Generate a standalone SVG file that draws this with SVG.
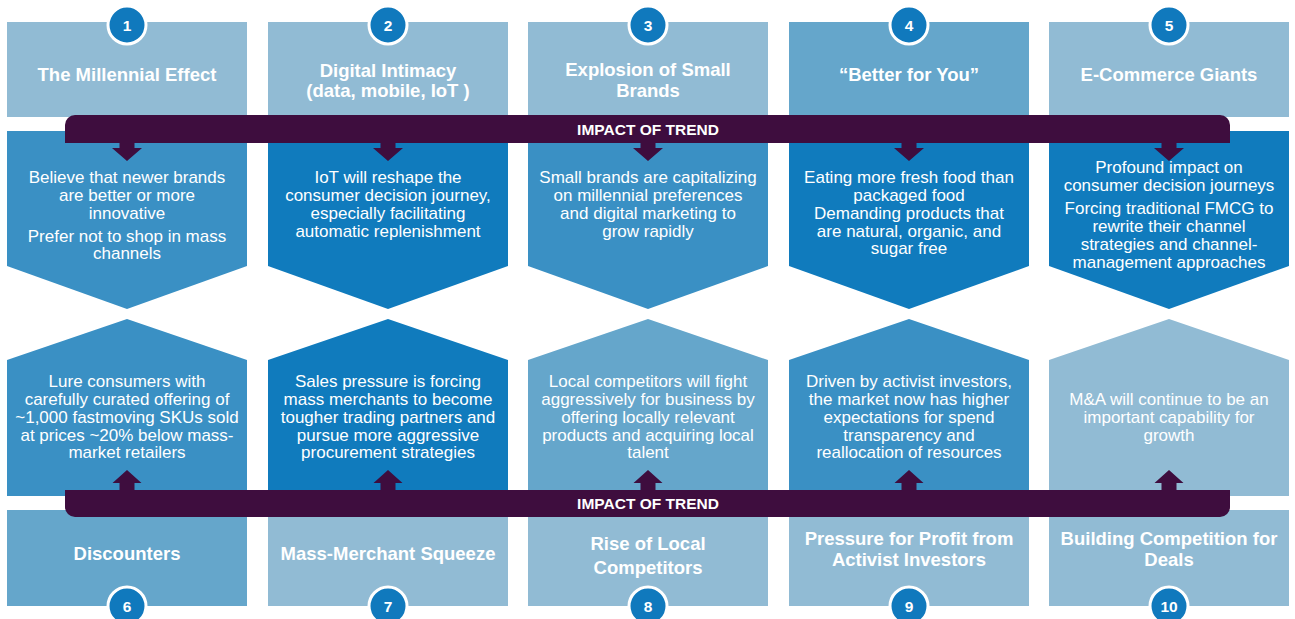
<svg xmlns="http://www.w3.org/2000/svg" width="1295" height="619" viewBox="0 0 1295 619">
<style>
.light{fill:#91BBD4}.medium{fill:#65A6CB}.middark{fill:#3A90C4}.dark{fill:#107BBD}
.bar{fill:#3E0D3E}
.num{fill:#1079BD;stroke:#fff;stroke-width:3}
.numt{font-family:"Liberation Sans",Arial,sans-serif;font-weight:bold;font-size:15.5px;fill:#fff;text-anchor:middle}
.title{font-family:"Liberation Sans",Arial,sans-serif;font-weight:bold;font-size:18.5px;fill:#fff;text-anchor:middle}
.body{font-family:"Liberation Sans",Arial,sans-serif;font-size:17px;fill:#fff;text-anchor:middle}
.bart{font-family:"Liberation Sans",Arial,sans-serif;font-weight:bold;font-size:15.5px;fill:#fff;text-anchor:middle}
.arr{fill:#3E0D3E}
</style>
<rect width="1295" height="619" fill="#fff"/>

<!-- Top title boxes -->
<g id="trend1"><rect class="light" x="7" y="22" width="240" height="95"/><text class="title" x="127" y="81">The Millennial Effect</text></g>
<g id="trend2"><rect class="light" x="268" y="22" width="240" height="95"/><text class="title" x="388" y="77">Digital Intimacy</text><text class="title" x="388" y="97">(data, mobile, IoT )</text></g>
<g id="trend3"><rect class="light" x="528" y="22" width="240" height="95"/><text class="title" x="648" y="76">Explosion of Small</text><text class="title" x="648" y="97">Brands</text></g>
<g id="trend4"><rect class="medium" x="789" y="22" width="240" height="95"/><text class="title" x="909" y="81">“Better for You”</text></g>
<g id="trend5"><rect class="light" x="1049" y="22" width="240" height="95"/><text class="title" x="1169" y="81">E-Commerce Giants</text></g>

<!-- Top impact chevrons -->
<g id="impact1"><path class="middark" d="M7,131H247V266L127,309L7,266Z"/>
<text class="body" x="127" y="183">Believe that newer brands</text><text class="body" x="127" y="201">are better or more</text><text class="body" x="127" y="219">innovative</text><text class="body" x="127" y="242">Prefer not to shop in mass</text><text class="body" x="127" y="259">channels</text></g>
<g id="impact2"><path class="dark" d="M268,131H508V266L388,309L268,266Z"/>
<text class="body" x="388" y="183">IoT will reshape the</text><text class="body" x="388" y="201">consumer decision journey,</text><text class="body" x="388" y="219">especially facilitating</text><text class="body" x="388" y="237">automatic replenishment</text></g>
<g id="impact3"><path class="middark" d="M528,131H768V266L648,309L528,266Z"/>
<text class="body" x="648" y="183">Small brands are capitalizing</text><text class="body" x="648" y="201">on millennial preferences</text><text class="body" x="648" y="219">and digital marketing to</text><text class="body" x="648" y="237">grow rapidly</text></g>
<g id="impact4"><path class="dark" d="M789,131H1029V266L909,309L789,266Z"/>
<text class="body" x="909" y="183">Eating more fresh food than</text><text class="body" x="909" y="201">packaged food</text><text class="body" x="909" y="219">Demanding products that</text><text class="body" x="909" y="237">are natural, organic, and</text><text class="body" x="909" y="254">sugar free</text></g>
<g id="impact5"><path class="dark" d="M1049,131H1289V266L1169,309L1049,266Z"/>
<text class="body" x="1169" y="173">Profound impact on</text><text class="body" x="1169" y="191">consumer decision journeys</text><text class="body" x="1169" y="214">Forcing traditional FMCG to</text><text class="body" x="1169" y="232">rewrite their channel</text><text class="body" x="1169" y="250">strategies and channel-</text><text class="body" x="1169" y="268">management approaches</text></g>

<!-- Bottom impact chevrons -->
<g id="impact6"><path class="middark" d="M127,319L247,360V496H7V360Z"/>
<text class="body" x="127" y="387">Lure consumers with</text><text class="body" x="127" y="405">carefully curated offering of</text><text class="body" x="127" y="423">~1,000 fastmoving SKUs sold</text><text class="body" x="127" y="441">at prices ~20% below mass-</text><text class="body" x="127" y="458">market retailers</text></g>
<g id="impact7"><path class="dark" d="M388,319L508,360V496H268V360Z"/>
<text class="body" x="388" y="387">Sales pressure is forcing</text><text class="body" x="388" y="405">mass merchants to become</text><text class="body" x="388" y="423">tougher trading partners and</text><text class="body" x="388" y="441">pursue more aggressive</text><text class="body" x="388" y="458">procurement strategies</text></g>
<g id="impact8"><path class="medium" d="M648,319L768,360V496H528V360Z"/>
<text class="body" x="648" y="387">Local competitors will fight</text><text class="body" x="648" y="405">aggressively for business by</text><text class="body" x="648" y="423">offering locally relevant</text><text class="body" x="648" y="441">products and acquiring local</text><text class="body" x="648" y="458">talent</text></g>
<g id="impact9"><path class="middark" d="M909,319L1029,360V496H789V360Z"/>
<text class="body" x="909" y="387">Driven by activist investors,</text><text class="body" x="909" y="405">the market now has higher</text><text class="body" x="909" y="423">expectations for spend</text><text class="body" x="909" y="441">transparency and</text><text class="body" x="909" y="458">reallocation of resources</text></g>
<g id="impact10"><path class="light" d="M1169,319L1289,360V496H1049V360Z"/>
<text class="body" x="1169" y="405">M&amp;A will continue to be an</text><text class="body" x="1169" y="423">important capability for</text><text class="body" x="1169" y="441">growth</text></g>

<!-- Bottom title boxes -->
<g id="trend6"><rect class="medium" x="7" y="510" width="240" height="96"/><text class="title" x="127" y="560">Discounters</text></g>
<g id="trend7"><rect class="light" x="268" y="510" width="240" height="96"/><text class="title" x="388" y="560">Mass-Merchant Squeeze</text></g>
<g id="trend8"><rect class="light" x="528" y="510" width="240" height="96"/><text class="title" x="648" y="550">Rise of Local</text><text class="title" x="648" y="574">Competitors</text></g>
<g id="trend9"><rect class="light" x="789" y="510" width="240" height="96"/><text class="title" x="909" y="545">Pressure for Profit from</text><text class="title" x="909" y="566">Activist Investors</text></g>
<g id="trend10"><rect class="light" x="1049" y="510" width="240" height="96"/><text class="title" x="1169" y="545">Building Competition for</text><text class="title" x="1169" y="566">Deals</text></g>

<!-- Impact bars -->
<g id="bar-top"><path class="bar" d="M65,143V125A10,10 0 0 1 75,115H1220A10,10 0 0 1 1230,125V143Z"/><text class="bart" x="648" y="135">IMPACT OF TREND</text></g>
<g id="bar-bottom"><path class="bar" d="M65,490H1230V507A10,10 0 0 1 1220,517H75A10,10 0 0 1 65,507Z"/><text class="bart" x="648" y="509">IMPACT OF TREND</text></g>

<!-- Connectors -->
<g id="connectors">
<polygon class="arr" points="119.5,142 134.5,142 134.5,148 142,148 127,161 112,148 119.5,148"/>
<polygon class="arr" points="380.5,142 395.5,142 395.5,148 403,148 388,161 373,148 380.5,148"/>
<polygon class="arr" points="640.5,142 655.5,142 655.5,148 663,148 648,161 633,148 640.5,148"/>
<polygon class="arr" points="901.5,142 916.5,142 916.5,148 924,148 909,161 894,148 901.5,148"/>
<polygon class="arr" points="1161.5,142 1176.5,142 1176.5,148 1184,148 1169,161 1154,148 1161.5,148"/>
<polygon class="arr" points="127,470 141.5,483 134.5,483 134.5,491 119.5,491 119.5,483 112.5,483"/>
<polygon class="arr" points="388,470 402.5,483 395.5,483 395.5,491 380.5,491 380.5,483 373.5,483"/>
<polygon class="arr" points="648,470 662.5,483 655.5,483 655.5,491 640.5,491 640.5,483 633.5,483"/>
<polygon class="arr" points="909,470 923.5,483 916.5,483 916.5,491 901.5,491 901.5,483 894.5,483"/>
<polygon class="arr" points="1169,470 1183.5,483 1176.5,483 1176.5,491 1161.5,491 1161.5,483 1154.5,483"/>
</g>

<!-- Number badges -->
<g id="badges">
<circle class="num" cx="127" cy="25" r="19"/><text class="numt" x="127" y="30.5">1</text>
<circle class="num" cx="388" cy="25" r="19"/><text class="numt" x="388" y="30.5">2</text>
<circle class="num" cx="648" cy="25" r="19"/><text class="numt" x="648" y="30.5">3</text>
<circle class="num" cx="909" cy="25" r="19"/><text class="numt" x="909" y="30.5">4</text>
<circle class="num" cx="1169" cy="25" r="19"/><text class="numt" x="1169" y="30.5">5</text>
<circle class="num" cx="127" cy="606" r="19"/><text class="numt" x="127" y="612">6</text>
<circle class="num" cx="388" cy="606" r="19"/><text class="numt" x="388" y="612">7</text>
<circle class="num" cx="648" cy="606" r="19"/><text class="numt" x="648" y="612">8</text>
<circle class="num" cx="909" cy="606" r="19"/><text class="numt" x="909" y="612">9</text>
<circle class="num" cx="1169" cy="606" r="19"/><text class="numt" x="1169" y="612">10</text>
</g>
</svg>
